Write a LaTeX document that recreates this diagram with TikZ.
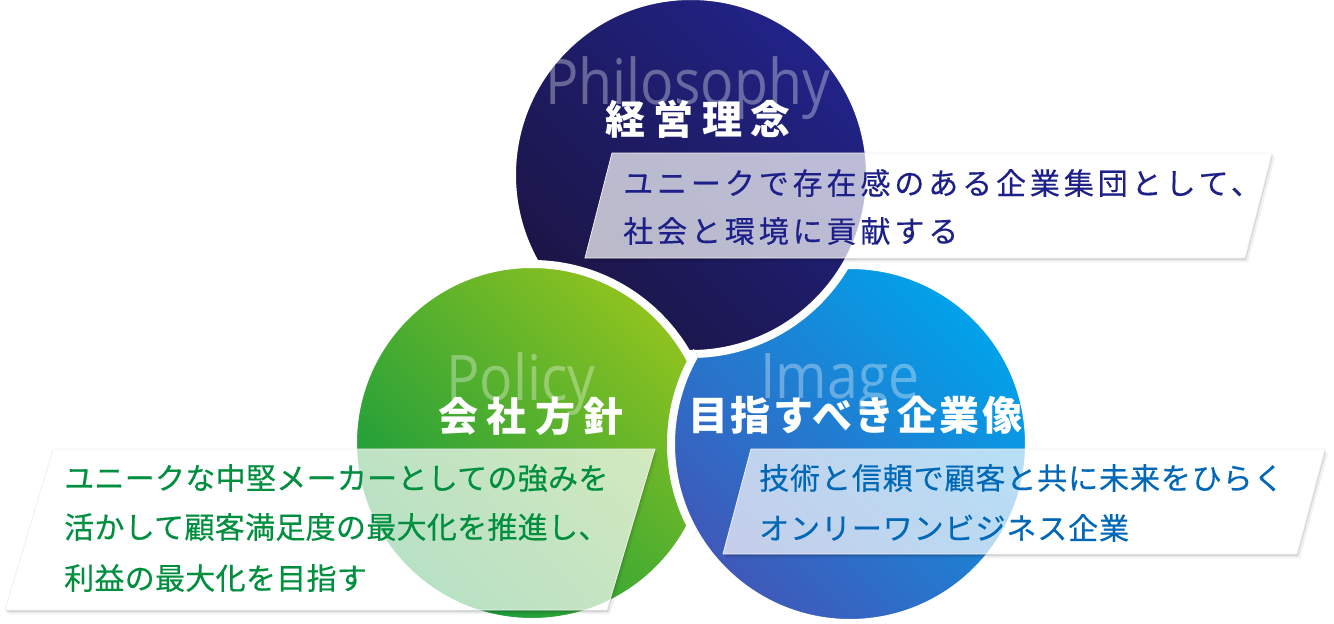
\documentclass[tikz,border=0pt]{standalone}
\usepackage{fontspec}
\setmainfont{Noto Sans CJK JP}
\newfontfamily\ghostfont[FakeStretch=0.88]{Open Sans}
\usepackage{tikz}
\definecolor{philoTop}{RGB}{33,35,136}
\definecolor{philoBot}{RGB}{27,21,68}
\definecolor{policyTop}{RGB}{143,195,31}
\definecolor{policyBot}{RGB}{18,154,62}
\definecolor{imageTop}{RGB}{0,163,234}
\definecolor{imageBot}{RGB}{64,88,185}
\definecolor{philoText}{RGB}{29,32,136}
\definecolor{policyText}{RGB}{0,143,62}
\definecolor{imageText}{RGB}{0,104,183}

\tikzset{
  disc/.style 2 args={draw=white, line width=8pt, top color=#1, bottom color=#2, shading angle=-45},
  ghost/.style={anchor=base west, inner sep=0pt, text=white, text opacity=0.33,
    font=\ghostfont\fontsize{63}{63}\selectfont},
  title/.style={anchor=west, inner sep=0pt, text=white},
  desc/.style={anchor=west, inner sep=0pt},
  plate/.style={fill=white, fill opacity=0.7, draw=black!6, line width=0.8pt},
}

\begin{document}
\begin{tikzpicture}[x=1pt, y=-1pt]
  \useasboundingbox (0,0) rectangle (1334,624);

  % centres
  \coordinate (cP) at (691,175);
  \coordinate (cG) at (532,443);
  \coordinate (cB) at (850,444);

  % circles: green over navy, navy over blue, blue over green
  \path[disc={imageTop}{imageBot}] (cB) circle[radius=179pt];
  \path[disc={philoTop}{philoBot}] (cP) circle[radius=179pt];
  \path[disc={policyTop}{policyBot}] (cG) circle[radius=179pt];
  \begin{scope}
    \clip (cG) circle[radius=187pt];
    \path[disc={imageTop}{imageBot}] (cB) circle[radius=179pt];
  \end{scope}

  % english words
  \node[ghost] (philoEn) at (545,104) {Philosophy};
  \node[ghost] (policyEn) at (446,400) {Policy};
  \node[ghost] (imageEn) at (760,398) {Image};

  % titles
  \node[title, font={\fontsize{40}{40}\selectfont\bfseries\addfontfeatures{LetterSpace=21}}]
    (philoT) at (605,119) {経営理念};
  \node[title, font={\fontsize{40}{40}\selectfont\bfseries\addfontfeatures{LetterSpace=21}}]
    (policyT) at (438,416) {会社方針};
  \node[title, font={\fontsize{40}{40}\selectfont\bfseries\addfontfeatures{LetterSpace=6}}]
    (imageT) at (688,415) {目指すべき企業像};

  % plates
  \coordinate (P1) at (612,153); \coordinate (P2) at (1272,153);
  \coordinate (P3) at (1245,258); \coordinate (P4) at (585,258);
  \coordinate (G1) at (53,449);   \coordinate (G2) at (655,449);
  \coordinate (G3) at (607,610);  \coordinate (G4) at (5,610);
  \coordinate (B1) at (751,449);  \coordinate (B2) at (1325,449);
  \coordinate (B3) at (1297,554); \coordinate (B4) at (723,554);
  \foreach \n in {P,G,B}{
    \begin{scope}[even odd rule]
      \clip (0,0) rectangle (1334,624) (\n1) -- (\n2) -- (\n3) -- (\n4) -- cycle;
      \foreach \s/\o in {1/0.12, 3/0.06}
        \fill[black, opacity=\o] ([shift={(\s,\s+1)}]\n1) -- ([shift={(\s,\s+1)}]\n2)
          -- ([shift={(\s,\s+1)}]\n3) -- ([shift={(\s,\s+1)}]\n4) -- cycle;
    \end{scope}
    \path[plate] (\n1) -- (\n2) -- (\n3) -- (\n4) -- cycle;
  }

  % texts
  \node[desc, text=philoText, font={\fontsize{30}{30}\selectfont\addfontfeatures{LetterSpace=13,FakeBold=0.4}}]
    (philoL1) at (623,183) {ユニークで存在感のある企業集団として、};
  \node[desc, text=philoText, font={\fontsize{30}{30}\selectfont\addfontfeatures{LetterSpace=13,FakeBold=0.4}}]
    (philoL2) at (623,231) {社会と環境に貢献する};
  \node[desc, text=policyText, font={\fontsize{30}{30}\selectfont\addfontfeatures{LetterSpace=1,FakeBold=0.4}}]
    (policyL1) at (64,478) {ユニークな中堅メーカーとしての強みを};
  \node[desc, text=policyText, font={\fontsize{30}{30}\selectfont\addfontfeatures{LetterSpace=1,FakeBold=0.4}}]
    (policyL2) at (64,527) {活かして顧客満足度の最大化を推進し、};
  \node[desc, text=policyText, font={\fontsize{30}{30}\selectfont\addfontfeatures{LetterSpace=1,FakeBold=0.4}}]
    (policyL3) at (64,578) {利益の最大化を目指す};
  \node[desc, text=imageText, font={\fontsize{30}{30}\selectfont\addfontfeatures{LetterSpace=3,FakeBold=0.4}}]
    (imageL1) at (759,478) {技術と信頼で顧客と共に未来をひらく};
  \node[desc, text=imageText, font={\fontsize{30}{30}\selectfont\addfontfeatures{LetterSpace=3,FakeBold=0.4}}]
    (imageL2) at (759,528) {オンリーワンビジネス企業};
\end{tikzpicture}
\end{document}
